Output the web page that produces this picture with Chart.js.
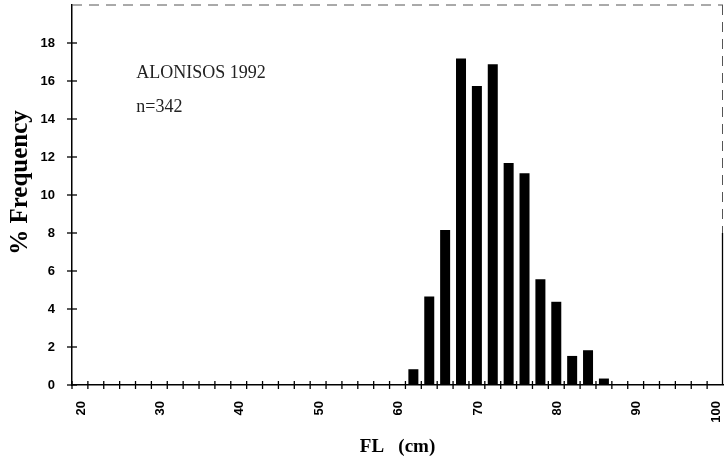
<!DOCTYPE html>
<html>
<head>
<meta charset="utf-8">
<script src="https://cdn.jsdelivr.net/npm/chart.js@4/dist/chart.umd.min.js"></script>
<style>
  html, body { margin: 0; padding: 0; background: #fff; }
  #wrap { width: 725px; height: 464px; position: relative; }
</style>
</head>
<body>
<div id="wrap"><canvas id="c" width="725" height="464"></canvas></div>
<script>
// Fork length class midpoints (cm)
const categories = [63, 65, 67, 69, 71, 73, 75, 77, 79, 81, 83, 85, 87];
// % frequency per class
const frequency = [0.83, 4.66, 8.16, 17.19, 15.74, 16.88, 11.68, 11.14, 5.57, 4.38, 1.53, 1.83, 0.34];
// Axis tick labels
const xTickLabels = [20, 30, 40, 50, 60, 70, 80, 90, 100];
const yTickLabels = [0, 2, 4, 6, 8, 10, 12, 14, 16, 18];
// Annotation texts
const titleText = 'ALONISOS 1992';
const sampleText = 'n=342';

const serif = '"Liberation Serif", "Times New Roman", serif';
const sans = '"Liberation Sans", Arial, sans-serif';

const decorations = {
  id: 'decorations',
  afterDraw(chart) {
    const { ctx, chartArea: a, scales: { x, y } } = chart;
    ctx.save();
    ctx.strokeStyle = '#000';
    ctx.lineWidth = 1.3;
    // crossing tick marks
    x.ticks.forEach(t => {
      const px = x.getPixelForValue(t.value);
      ctx.beginPath(); ctx.moveTo(px, a.bottom - 4); ctx.lineTo(px, a.bottom + 4); ctx.stroke();
    });
    y.ticks.forEach(t => {
      const py = y.getPixelForValue(t.value);
      ctx.beginPath(); ctx.moveTo(a.left - 5, py); ctx.lineTo(a.left + 5, py); ctx.stroke();
    });
    // frame: dashed grey top, broken/solid right
    ctx.strokeStyle = '#555';
    ctx.lineWidth = 1;
    ctx.setLineDash([10, 7]);
    ctx.beginPath(); ctx.moveTo(a.left, a.top); ctx.lineTo(a.right, a.top); ctx.stroke();
    const mid = y.getPixelForValue(8);
    ctx.beginPath(); ctx.moveTo(a.right - 0.5, a.top); ctx.lineTo(a.right - 0.5, mid); ctx.stroke();
    ctx.setLineDash([]);
    ctx.strokeStyle = '#000';
    ctx.lineWidth = 1.3;
    ctx.beginPath(); ctx.moveTo(a.right - 0.5, mid); ctx.lineTo(a.right - 0.5, a.bottom); ctx.stroke();
    // annotations
    ctx.fillStyle = '#222';
    ctx.font = '18px ' + serif;
    ctx.textAlign = 'left';
    ctx.textBaseline = 'middle';
    ctx.fillText(titleText, x.getPixelForValue(28.1), y.getPixelForValue(16.4));
    ctx.fillText(sampleText, x.getPixelForValue(28.1), y.getPixelForValue(14.6));
    ctx.restore();
  }
};

new Chart(document.getElementById('c'), {
  type: 'bar',
  data: {
    datasets: [{
      data: categories.map((c, i) => ({ x: c, y: frequency[i] })),
      backgroundColor: '#000',
      borderWidth: 0,
      categoryPercentage: 1.0,
      barPercentage: 0.63
    }]
  },
  options: {
    responsive: false,
    animation: false,
    layout: { autoPadding: false, padding: { top: 5, right: 2, left: 0, bottom: 0 } },
    plugins: { legend: { display: false }, tooltip: { enabled: false } },
    scales: {
      x: {
        type: 'linear',
        offset: false,
        min: 20,
        max: 102,
        grid: { display: false, drawTicks: false },
        border: { display: true, color: '#000', width: 1.5 },
        afterBuildTicks(scale) {
          scale.ticks = scale.ticks.filter(t => t.value <= 100 && t.value % 2 === 0);
        },
        afterFit(scale) {
          scale.height = 79;
          scale.paddingLeft = 0; scale.paddingRight = 0;
          scale.paddingTop = 0; scale.paddingBottom = 0;
        },
        ticks: {
          stepSize: 2,
          autoSkip: false,
          minRotation: 90,
          maxRotation: 90,
          padding: 16,
          labelOffset: 9,
          color: '#000',
          font: { family: sans, size: 13, weight: 'bold' },
          callback: v => (xTickLabels.includes(v) ? String(v) : '')
        },
        title: {
          display: true,
          text: 'FL   (cm)',
          color: '#000',
          font: { family: serif, size: 19, weight: 'bold' },
          padding: { top: 0, bottom: 6 }
        }
      },
      y: {
        min: 0,
        max: 20,
        grid: { display: false, drawTicks: false },
        border: { display: true, color: '#000', width: 1.5 },
        afterBuildTicks(scale) {
          scale.ticks = yTickLabels.map(v => ({ value: v }));
        },
        afterFit(scale) {
          scale.width = 72;
          scale.paddingLeft = 0; scale.paddingRight = 0;
          scale.paddingTop = 0; scale.paddingBottom = 0;
        },
        ticks: {
          stepSize: 2,
          padding: 17,
          color: '#000',
          font: { family: sans, size: 13, weight: 'bold' }
        },
        title: {
          display: true,
          text: '\u2002\u2002% Frequency',
          color: '#000',
          font: { family: serif, size: 25, weight: 'bold' },
          padding: { top: 6, bottom: 0 }
        }
      }
    }
  },
  plugins: [decorations]
});
</script>
</body>
</html>
